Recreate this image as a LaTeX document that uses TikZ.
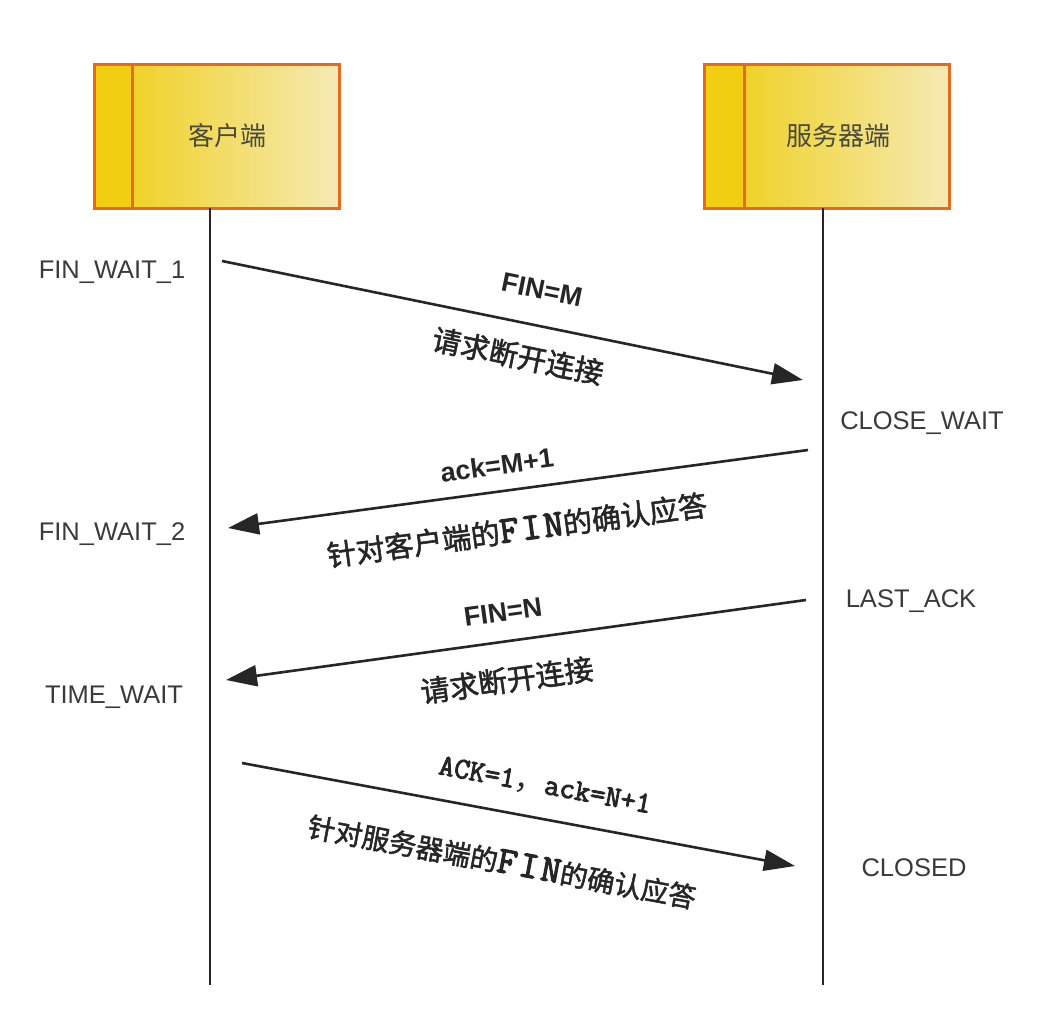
\documentclass[tikz,border=0pt]{standalone}
\usepackage{fontspec}
\setmainfont{Liberation Sans}
\newfontfamily\cjk{Noto Sans CJK SC}
\newfontfamily\cjkb{Noto Sans CJK SC}[FakeBold=1.8]
\newfontfamily\monob{Latin Modern Mono}[FakeBold=3]
\usetikzlibrary{arrows.meta}
\definecolor{boxline}{HTML}{E6691E}
\definecolor{stripc}{HTML}{F2CE12}
\definecolor{gradL}{HTML}{F0D22A}
\definecolor{gradR}{HTML}{F5EAB5}
\definecolor{ink}{HTML}{262626}
\definecolor{txt}{HTML}{3A3A3A}
\definecolor{hdrtxt}{HTML}{4A4A3C}
\newcommand\finword{{\monob\addfontfeature{LetterSpace=7}\fontsize{38}{38}\selectfont FIN}}
\begin{document}
\begin{tikzpicture}[x=1pt,y=-1pt,
  hdrframe/.style={draw=boxline, line width=3pt, minimum width=245pt, minimum height=144pt, inner sep=0pt},
  hdrtext/.style={font=\cjk\fontsize{26}{30}\selectfont, text=hdrtxt, inner sep=0pt},
  life/.style={draw=ink, line width=2.6pt},
  msg/.style={draw=ink, line width=2.6pt, -{Triangle[length=31pt,width=21pt]}},
  state/.style={font=\fontsize{25.5}{30}\selectfont, text=txt, inner sep=0pt, anchor=base},
  blab/.style={font=\bfseries\fontsize{27}{30}\selectfont, text=ink, inner sep=0pt},
  clab/.style={font=\cjkb\fontsize{29}{32}\selectfont, text=ink, inner sep=0pt},
  mlab/.style={font=\monob\fontsize{30}{32}\selectfont, text=ink, inner sep=0pt},
]
\fill[white] (0,0) rectangle (1044,1009);
\useasboundingbox (0,0) rectangle (1044,1009);

% client header
\shade[left color=gradL, right color=gradR] (134,64) rectangle (339,208);
\fill[stripc] (94,64) rectangle (134,208);
\node[hdrframe] (client) at (216.5,136) {};
\draw[boxline, line width=3pt] ([xshift=40pt]client.north west) -- ([xshift=40pt]client.south west);
\node[hdrtext] (clientlbl) at (227,136) {客户端};

% server header
\shade[left color=gradL, right color=gradR] (745,64) rectangle (950,208);
\fill[stripc] (704,64) rectangle (745,208);
\node[hdrframe] (server) at (827,136) {};
\draw[boxline, line width=3pt] ([xshift=41pt]server.north west) -- ([xshift=41pt]server.south west);
\node[hdrtext] (serverlbl) at (838,136) {服务器端};

% lifelines
\coordinate (ctop) at (210,208);
\coordinate (cbot) at (210,985);
\coordinate (stop) at (823,208);
\coordinate (sbot) at (823,985);
\draw[life] (ctop) -- (cbot);
\draw[life] (stop) -- (sbot);

% states
\node[state] (s1) at (112,278) {FIN\_WAIT\_1};
\node[state] (s2) at (922,429) {CLOSE\_WAIT};
\node[state] (s3) at (112,540) {FIN\_WAIT\_2};
\node[state] (s4) at (911,607) {LAST\_ACK};
\node[state] (s5) at (114,703) {TIME\_WAIT};
\node[state] (s6) at (914,876) {CLOSED};

% message endpoints
\coordinate (m1s) at (222,261);
\coordinate (m1e) at (803,380);
\coordinate (m2s) at (808,450);
\coordinate (m2e) at (228,528);
\coordinate (m3s) at (806,600);
\coordinate (m3e) at (226,680);
\coordinate (m4s) at (242,763);
\coordinate (m4e) at (795,866);

\draw[msg] (m1s) -- (m1e);
\draw[msg] (m2s) -- (m2e);
\draw[msg] (m3s) -- (m3e);
\draw[msg] (m4s) -- (m4e);

% labels
\node[blab, rotate=-11.6] (l1a) at (542,290) {FIN=M};
\node[clab, rotate=-11.6] (l1b) at (518,356) {请求断开连接};
\node[blab, rotate=7.7] (l2a) at (497,465) {ack=M+1};
\node[clab, rotate=7.7] (l2b) at (517,530) {针对客户端的\finword 的确认应答};
\node[blab, rotate=7.9] (l3a) at (503,612) {FIN=N};
\node[clab, rotate=7.9] (l3b) at (507,680) {请求断开连接};
\node[mlab, rotate=-10.55] (l4a) at (545,786) {ACK=1{\cjk ，}ack=N+1};
\node[clab, font=\cjkb\fontsize{27.5}{30}\selectfont, rotate=-10.55] (l4b) at (502,862) {针对服务器端的\finword 的确认应答};
\end{tikzpicture}
\end{document}
